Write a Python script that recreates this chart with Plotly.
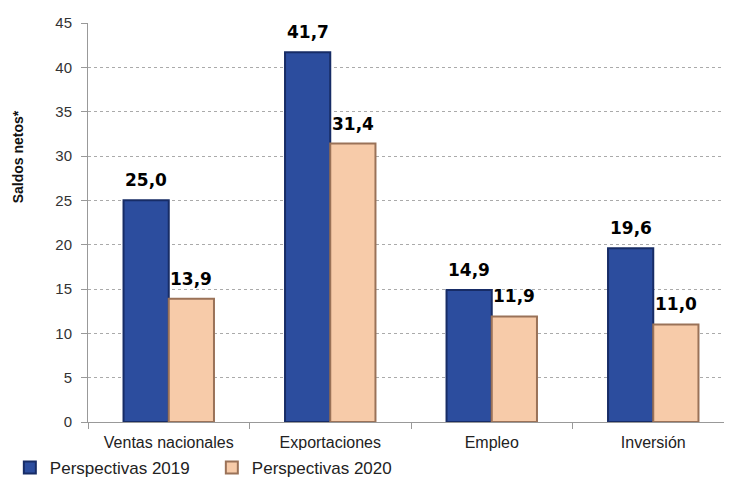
import plotly.graph_objects as go

# Data
categorias = ["Ventas nacionales", "Exportaciones", "Empleo", "Inversión"]
persp_2019 = [25.0, 41.7, 14.9, 19.6]
persp_2020 = [13.9, 31.4, 11.9, 11.0]
y_ticks = [0, 5, 10, 15, 20, 25, 30, 35, 40, 45]

label_font = dict(family="DejaVu Sans", size=17, color="black")
bar_half = 22.5  # px, half width of one bar (for label offsets)

fig = go.Figure()
fig.add_bar(
    x=categorias, y=persp_2019, name="Perspectivas 2019",
    marker=dict(color="#2C4D9E", line=dict(color="#172C66", width=2)),
)
fig.add_bar(
    x=categorias, y=persp_2020, name="Perspectivas 2020",
    marker=dict(color="#F7CBA9", line=dict(color="#9A7258", width=2)),
)

# value labels above bars
for serie, shift in ((persp_2019, -bar_half), (persp_2020, bar_half)):
    for cat, val in zip(categorias, serie):
        fig.add_annotation(
            x=cat, y=val, text=f"<b>{val:.1f}</b>".replace(".", ","),
            showarrow=False, xshift=shift, yshift=8, yanchor="bottom",
            font=label_font,
        )

# y axis title (sits above the middle in the original)
fig.add_annotation(
    xref="paper", yref="paper", x=-0.108, y=0.664, textangle=-90,
    xanchor="center", yanchor="middle",
    text="<b>Saldos netos*</b>", showarrow=False,
    font=dict(family="Liberation Sans, Arial", size=14, color="#111"),
)

fig.update_layout(
    width=732, height=493,
    margin=dict(l=80, r=6, t=15, b=79, autoexpand=False),
    paper_bgcolor="white", plot_bgcolor="white",
    separators=",.",
    barmode="group", bargap=0.44, bargroupgap=0,
    font=dict(family="Liberation Sans, Arial", size=14, color="#222"),
    legend=dict(orientation="h", x=-0.121, xanchor="left", y=-0.115, yanchor="middle",
                font=dict(size=17, color="#222"), entrywidth=157, entrywidthmode="pixels",
                traceorder="normal"),
    showlegend=True,
)
fig.update_xaxes(
    tickson="boundaries", ticks="outside", ticklen=6, tickcolor="#999",
    showline=True, linecolor="#999", linewidth=1, automargin=False,
    tickfont=dict(size=16, color="#222"), ticklabelstandoff=6,
)
fig.update_yaxes(
    range=[0, 45], tickvals=y_ticks, ticks="outside", ticklen=6, tickcolor="#999",
    showline=True, linecolor="#999", linewidth=1, automargin=False,
    showgrid=True, gridcolor="#aaa", griddash="dot", gridwidth=1,
    tickfont=dict(size=15, color="#333"), ticklabelstandoff=6,
    zeroline=False,
)

fig.write_html("out.html")
